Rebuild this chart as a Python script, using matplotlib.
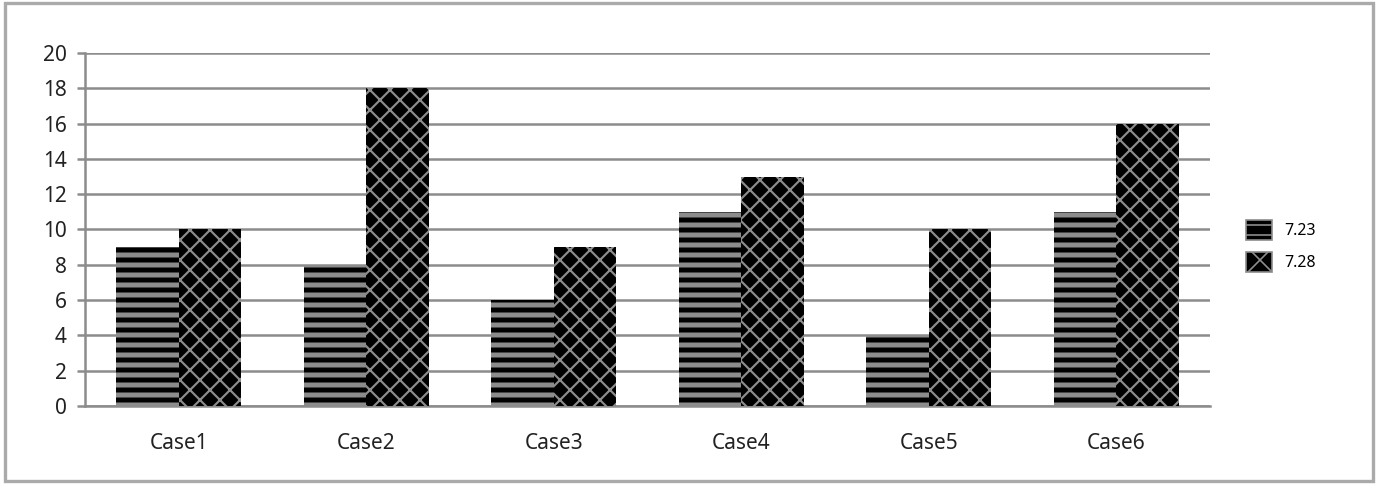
import numpy as np
import matplotlib.pyplot as plt
from matplotlib.patches import Rectangle, Patch

# Data
cases = ['Case1', 'Case2', 'Case3', 'Case4', 'Case5', 'Case6']
s723 = [9, 8, 6, 11, 4, 11]
s728 = [10, 18, 9, 13, 10, 16]
yticks = list(range(0, 21, 2))

gray = '#8c8c8c'
plt.rcParams['font.family'] = ['Noto Sans', 'DejaVu Sans']

fig = plt.figure(figsize=(11.5, 484 / 120), dpi=120)
ax = fig.add_axes([85 / 1380, 1 - 406 / 484, 1125 / 1380, 353 / 484])

x = np.arange(len(cases))
w = 1 / 3
b1 = ax.bar(x - w / 2, s723, w, color='black', edgecolor=gray, linewidth=0, hatch='--', zorder=3)
b2 = ax.bar(x + w / 2, s728, w, color='black', edgecolor=gray, linewidth=0, hatch='xx', zorder=3)
for p in b1:
    try:
        p.set_hatch_linewidth(3.0)
    except AttributeError:
        pass
for p in b2:
    try:
        p.set_hatch_linewidth(1.3)
    except AttributeError:
        pass

ax.set_xlim(-0.5, len(cases) - 0.5)
ax.set_ylim(0, 20)
ax.set_yticks(yticks)
ax.set_xticks(x)
ax.set_xticklabels(cases, fontsize=12.5, color='#222222')
ax.tick_params(axis='x', length=0, pad=16)
ax.tick_params(axis='y', length=5, width=1.5, color=gray, labelsize=12.5, labelcolor='#222222', pad=6)
ax.grid(axis='y', color=gray, linewidth=1.5, zorder=0)
ax.set_axisbelow(True)
for s in ['top', 'right']:
    ax.spines[s].set_visible(False)
for s in ['left', 'bottom']:
    ax.spines[s].set_color(gray)
    ax.spines[s].set_linewidth(1.5)

handles = [Patch(facecolor='black', edgecolor=gray, hatch='--', label='7.23'),
           Patch(facecolor='black', edgecolor=gray, hatch='x', label='7.28')]
fig.legend(handles=handles, loc='center left', bbox_to_anchor=(1232 / 1380, 1 - 246 / 484),
           frameon=False, fontsize=9.5, handlelength=1.6, handleheight=1.6, labelspacing=0.7)

fig.patches.append(Rectangle((5 / 1380, 3 / 484), 1368 / 1380, 478 / 484, transform=fig.transFigure,
                             fill=False, edgecolor='#aaaaaa', linewidth=2))

fig.savefig('out.png', dpi=120)
